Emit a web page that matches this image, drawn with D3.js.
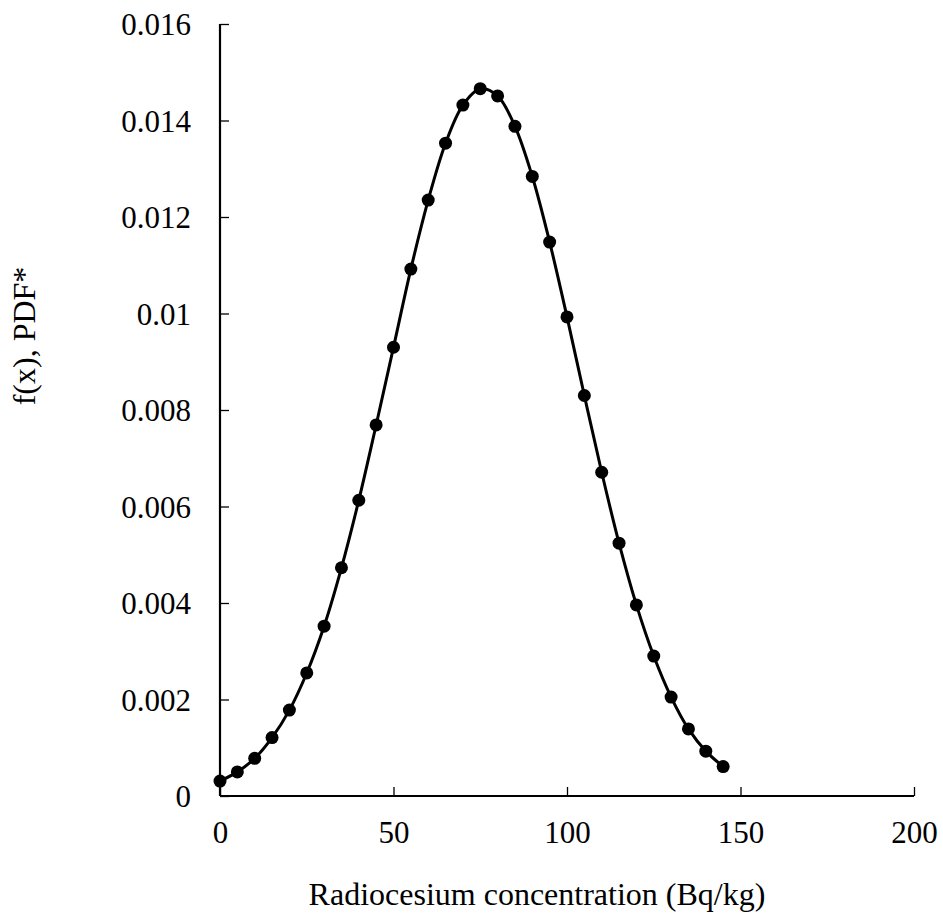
<!DOCTYPE html>
<html>
<head>
<meta charset="utf-8">
<script src="https://cdn.jsdelivr.net/npm/d3@7"></script>
<style>
  body { margin: 0; background: #fff; }
  svg text { font-family: "Liberation Serif", "Times New Roman", serif; fill: #000; }
</style>
</head>
<body>
<div id="chart"></div>
<script>
// concentration (Bq/kg) and f(x)
var conc = [0, 5, 10, 15, 20, 25, 30, 35, 40, 45, 50, 55, 60, 65, 70, 75,
            80, 85, 90, 95, 100, 105, 110, 115, 120, 125, 130, 135, 140, 145];
var pdf = [0.00031, 0.0005, 0.00078, 0.00121, 0.00178, 0.00255, 0.00352, 0.00473,
           0.00613, 0.00769, 0.0093, 0.01092, 0.01235, 0.01353, 0.01432, 0.01466,
           0.01451, 0.01388, 0.01284, 0.01148, 0.00993, 0.0083, 0.00671, 0.00524,
           0.00396, 0.0029, 0.00205, 0.00139, 0.00093, 0.00061];
var xTicks = [0, 50, 100, 150, 200];
var yTicks = [0, 0.002, 0.004, 0.006, 0.008, 0.01, 0.012, 0.014, 0.016];

var W = 943, H = 918;
var margin = { top: 24, right: 29, bottom: 122, left: 220 },
  width = W - margin.left - margin.right,
  height = H - margin.top - margin.bottom;

var svg = d3.select("#chart").append("svg")
  .attr("width", W)
  .attr("height", H);

var g = svg.append("g")
  .attr("transform", "translate(" + margin.left + "," + margin.top + ")");

var x = d3.scaleLinear().domain([0, 200]).range([0, width]);
var y = d3.scaleLinear().domain([0, 0.016]).range([height, 0]);

var data = conc.map(function (c, i) { return { x: c, y: pdf[i] }; });

// axes, ticks point inside
var xAxis = g.append("g")
  .attr("transform", "translate(0," + height + ")")
  .call(d3.axisBottom(x).tickValues(xTicks).tickSize(-9).tickPadding(36)
    .tickFormat(d3.format("d")));

var yAxis = g.append("g")
  .call(d3.axisLeft(y).tickValues(yTicks).tickSize(-9).tickPadding(29)
    .tickFormat(function (d) { return d === 0 ? "0" : String(+d.toFixed(3)); }));

[xAxis, yAxis].forEach(function (ax) {
  ax.select(".domain").attr("stroke", "#000").attr("stroke-width", 2.2);
  ax.selectAll(".tick line").attr("stroke", "#000").attr("stroke-width", 1.3);
  ax.selectAll(".tick text")
    .style("font-family", "'Liberation Serif', 'Times New Roman', serif")
    .style("font-size", "31px")
    .attr("fill", "#000");
});
xAxis.select(".domain").attr("d", "M0,0H" + width);
yAxis.select(".domain").attr("d", "M0," + height + "V0");
xAxis.selectAll(".tick text").attr("dy", "0.35em");
yAxis.selectAll(".tick text").attr("dy", "0.35em");

// smoothed line
var line = d3.line()
  .x(function (d) { return x(d.x); })
  .y(function (d) { return y(d.y); })
  .curve(d3.curveCatmullRom.alpha(0.5));

g.append("path")
  .datum(data)
  .attr("fill", "none")
  .attr("stroke", "#000")
  .attr("stroke-width", 3)
  .attr("d", line);

g.selectAll(".dot")
  .data(data)
  .enter().append("circle")
  .attr("class", "dot")
  .attr("cx", function (d) { return x(d.x); })
  .attr("cy", function (d) { return y(d.y); })
  .attr("r", 6.5)
  .attr("fill", "#000");

// axis titles
svg.append("text")
  .attr("x", 537)
  .attr("y", 905)
  .attr("text-anchor", "middle")
  .style("font-size", "32px")
  .text("Radiocesium concentration (Bq/kg)");

svg.append("text")
  .attr("transform", "translate(35,336) rotate(-90)")
  .attr("text-anchor", "middle")
  .style("font-size", "32px")
  .text("f(x), PDF*");
</script>
</body>
</html>
